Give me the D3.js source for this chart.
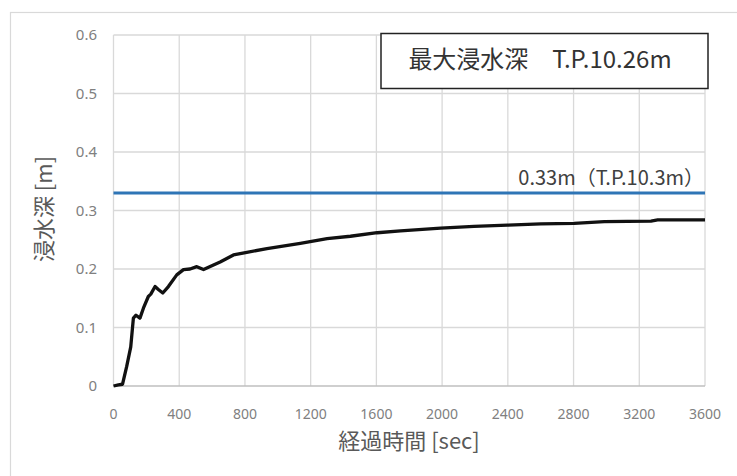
<!DOCTYPE html>
<html>
<head>
<meta charset="utf-8">
<script src="https://cdn.jsdelivr.net/npm/d3@7"></script>
<style>
  html, body { margin: 0; padding: 0; background: #fff; }
  svg { display: block; font-family: "Noto Sans", "Noto Sans CJK JP", sans-serif; }
</style>
</head>
<body>
<svg id="chart" width="737" height="476"></svg>
<script>
// elapsed time [sec] and inundation depth [m]
const timeSec = [0, 30, 55, 80, 105, 121, 137, 161, 182, 212, 227, 253, 273, 300, 334, 385, 426, 466, 507, 548,
  649, 730, 934, 1137, 1300, 1442, 1605, 1747, 1991, 2194, 2398, 2601, 2804, 2987, 3271, 3312, 3600];
const depthM = [0, 0.002, 0.003, 0.033, 0.067, 0.116, 0.121, 0.116, 0.133, 0.153, 0.157, 0.170, 0.165, 0.159, 0.170, 0.190, 0.199, 0.200, 0.204, 0.199,
  0.212, 0.224, 0.235, 0.244, 0.252, 0.256, 0.262, 0.265, 0.270, 0.273, 0.275, 0.277, 0.278, 0.281, 0.282, 0.284, 0.284];

const xTicks = [0, 400, 800, 1200, 1600, 2000, 2400, 2800, 3200, 3600];
const yTicks = [0, 0.1, 0.2, 0.3, 0.4, 0.5, 0.6];
const refDepth = 0.33;
const refLabel = '0.33m（T.P.10.3m）';
const boxLabel = '最大浸水深　T.P.10.26m';
const xTitle = '経過時間 [sec]';
const yTitle = '浸水深 [m]';

const svg = d3.select('#chart');
const plot = { left: 113.5, right: 705, top: 35, bottom: 386 };

const x = d3.scaleLinear().domain([0, 3600]).range([plot.left, plot.right]);
const y = d3.scaleLinear().domain([0, 0.6]).range([plot.bottom, plot.top]);

// outer chart frame (runs off the right / bottom edge)
svg.append('rect')
  .attr('x', 10.5).attr('y', 12.5)
  .attr('width', 740).attr('height', 480)
  .attr('fill', 'none').attr('stroke', '#d9d9d9').attr('stroke-width', 1.2);

// grid
const grid = svg.append('g');
grid.selectAll('line.v').data(xTicks).enter().append('line')
  .attr('x1', d => x(d)).attr('x2', d => x(d))
  .attr('y1', plot.top).attr('y2', plot.bottom)
  .attr('stroke', '#d9d9d9').attr('stroke-width', 1.3);
grid.selectAll('line.h').data(yTicks).enter().append('line')
  .attr('x1', plot.left).attr('x2', plot.right)
  .attr('y1', d => y(d)).attr('y2', d => y(d))
  .attr('stroke', d => d === 0 ? '#bfbfbf' : '#d9d9d9').attr('stroke-width', 1.3);

// tick labels
svg.append('g').selectAll('text').data(yTicks).enter().append('text')
  .attr('x', 97).attr('y', d => y(d)).attr('dy', '0.35em')
  .attr('text-anchor', 'end')
  .attr('font-size', 15).attr('fill', '#808080')
  .text(d => d === 0 ? '0' : d3.format('.1f')(d));
svg.append('g').selectAll('text').data(xTicks).enter().append('text')
  .attr('x', d => x(d)).attr('y', 414).attr('dy', '0.35em')
  .attr('text-anchor', 'middle')
  .attr('font-size', 14).attr('fill', '#808080')
  .text(d => d);

// axis titles
svg.append('text')
  .attr('x', 409).attr('y', 441).attr('dy', '0.35em')
  .attr('text-anchor', 'middle')
  .attr('font-family', '"Noto Sans CJK JP", sans-serif')
  .attr('font-size', 22).attr('fill', '#595959')
  .text(xTitle);
svg.append('text')
  .attr('transform', 'translate(44,209) rotate(-90)')
  .attr('dy', '0.35em')
  .attr('text-anchor', 'middle')
  .attr('font-family', '"Noto Sans CJK JP", sans-serif')
  .attr('font-size', 22).attr('fill', '#595959')
  .text(yTitle);

// reference level
svg.append('line')
  .attr('x1', plot.left).attr('x2', plot.right)
  .attr('y1', y(refDepth)).attr('y2', y(refDepth))
  .attr('stroke', '#2e75b6').attr('stroke-width', 3);
svg.append('text')
  .attr('x', 704).attr('y', 185)
  .attr('text-anchor', 'end')
  .attr('font-family', '"Noto Sans CJK JP", sans-serif')
  .attr('font-size', 20).attr('fill', '#404040')
  .text(refLabel);

// depth curve
const line = d3.line().x((d, i) => x(timeSec[i])).y(d => y(d));
svg.append('path')
  .attr('d', line(depthM))
  .attr('fill', 'none').attr('stroke', '#111').attr('stroke-width', 3.3)
  .attr('stroke-linejoin', 'round');

// max depth box
svg.append('rect')
  .attr('x', 381).attr('y', 33.5).attr('width', 327).attr('height', 55)
  .attr('fill', '#fff').attr('stroke', '#222').attr('stroke-width', 1.5);
svg.append('text')
  .attr('x', 540).attr('y', 60).attr('dy', '0.35em')
  .attr('text-anchor', 'middle')
  .attr('font-family', '"Noto Sans CJK JP", sans-serif')
  .attr('font-size', 24).attr('fill', '#333')
  .text(boxLabel);
</script>
</body>
</html>
